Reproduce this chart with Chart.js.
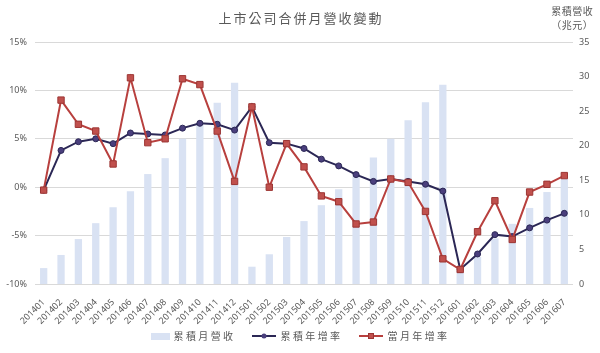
<!DOCTYPE html>
<html>
<head>
<meta charset="utf-8">
<script src="https://cdn.jsdelivr.net/npm/chart.js@4/dist/chart.umd.min.js"></script>
<style>
  html, body { margin: 0; padding: 0; background: #fff; }
  #wrap { position: relative; width: 600px; height: 353px; }
  #legend { position: absolute; left: 0; top: 328px; width: 600px; display: flex; justify-content: center; align-items: center;
    font-family: "Noto Sans CJK TC", "Noto Sans", sans-serif; font-size: 10px; line-height: 16px; color: #595959; letter-spacing: 2.4px; }
  .item { display: flex; align-items: center; margin: 0 8px; }
  .box { width: 19px; height: 7px; background: #d9e2f3; margin-right: 4px; }
  .ln { position: relative; width: 24px; height: 2px; margin-right: 5px; }
  .ln i { position: absolute; left: 50%; top: 50%; transform: translate(-50%, -50%); }
</style>
</head>
<body>
<div id="wrap">
  <canvas id="c" width="600" height="353"></canvas>
  <div id="legend">
    <div class="item"><span class="box"></span><span>累積月營收</span></div>
    <div class="item"><span class="ln" style="background:#2b2755"><i style="width:5px;height:5px;border-radius:50%;background:#4a3f7d;"></i></span><span>累積年增率</span></div>
    <div class="item"><span class="ln" style="background:#b8403e"><i style="width:6px;height:6px;background:#c0504d;border:1px solid #9c3533;box-sizing:border-box;"></i></span><span>當月年增率</span></div>
  </div>
</div>
<script>
const categories = ["201401","201402","201403","201404","201405","201406","201407","201408","201409","201410","201411","201412",
  "201501","201502","201503","201504","201505","201506","201507","201508","201509","201510","201511","201512",
  "201601","201602","201603","201604","201605","201606","201607"];
// 累積月營收 (兆元)
const cumRevenue = [2.3,4.2,6.5,8.8,11.1,13.4,15.9,18.2,21.0,23.3,26.2,29.1,
  2.5,4.3,6.8,9.1,11.4,13.7,16.0,18.3,21.0,23.7,26.3,28.8,
  2.0,3.9,6.6,8.7,11.0,13.3,15.2];
// 累積年增率 (%)
const cumGrowth = [-0.3,3.8,4.7,5.0,4.5,5.6,5.5,5.4,6.1,6.6,6.5,5.9,
  8.3,4.6,4.5,4.0,2.9,2.2,1.3,0.6,0.85,0.6,0.3,-0.4,
  -8.5,-6.9,-4.9,-5.1,-4.2,-3.4,-2.7];
// 當月年增率 (%)
const monthGrowth = [-0.3,9.0,6.5,5.8,2.4,11.3,4.6,5.0,11.2,10.6,5.8,0.6,
  8.3,0.0,4.5,2.1,-0.9,-1.5,-3.8,-3.6,0.85,0.5,-2.5,-7.4,
  -8.5,-4.6,-1.4,-5.4,-0.5,0.3,1.2];
const leftTicks = { min: -10, max: 15, step: 5 };
const rightTicks = { min: 0, max: 35, step: 5 };
const titleText = "上市公司合併月營收變動";
const rightTitle = ["累積營收", "（兆元）"];

const tickFont = { family: "'Noto Sans', 'Liberation Sans', sans-serif", size: 9 };
const cjk = "'Noto Sans CJK TC', 'Noto Sans', sans-serif";

const textPlugin = {
  id: 'texts',
  afterDraw(chart) {
    const ctx = chart.ctx;
    ctx.save();
    ctx.fillStyle = '#595959';
    ctx.textBaseline = 'middle';
    ctx.textAlign = 'center';
    ctx.font = "13px " + cjk;
    const adv = 15;
    const start = 300 - (titleText.length - 1) * adv / 2;
    for (let i = 0; i < titleText.length; i++) ctx.fillText(titleText[i], start + i * adv, 18);
    ctx.font = "10px " + cjk;
    const adv2 = 10.5;
    for (let l = 0; l < 2; l++) {
      const t = rightTitle[l];
      const s = 572 - (t.length - 1) * adv2 / 2;
      for (let i = 0; i < t.length; i++) ctx.fillText(t[i], s + i * adv2, l === 0 ? 11 : 25);
    }
    ctx.restore();
  }
};

new Chart(document.getElementById('c'), {
  data: {
    labels: categories,
    datasets: [
      { type: 'line', label: '當月年增率', data: monthGrowth, yAxisID: 'y', order: 1,
        borderColor: '#b8403e', borderWidth: 2, pointStyle: 'rect', pointRadius: 4.5,
        pointBackgroundColor: '#c0504d', pointBorderColor: '#9c3533', pointBorderWidth: 1, tension: 0 },
      { type: 'line', label: '累積年增率', data: cumGrowth, yAxisID: 'y', order: 2,
        borderColor: '#2b2755', borderWidth: 2, pointStyle: 'circle', pointRadius: 3,
        pointBackgroundColor: '#4a3f7d', pointBorderColor: '#2b2755', pointBorderWidth: 1, tension: 0 },
      { type: 'bar', label: '累積月營收', data: cumRevenue, yAxisID: 'y1', order: 3,
        backgroundColor: '#d9e2f3', barPercentage: 0.42, categoryPercentage: 1.0 }
    ]
  },
  options: {
    responsive: false,
    animation: false,
    layout: { padding: { top: 42, left: 0, right: 0, bottom: 0 } },
    plugins: { legend: { display: false }, title: { display: false }, tooltip: { enabled: false } },
    scales: {
      x: {
        grid: { display: false }, border: { display: false },
        ticks: { font: tickFont, color: '#595959', minRotation: 45, maxRotation: 45, autoSkip: false, padding: 5 },
        afterFit(s) { s.height = 69; }
      },
      y: {
        position: 'left', min: leftTicks.min, max: leftTicks.max,
        grid: { color: '#d9d9d9', lineWidth: 1, drawTicks: false }, border: { display: false },
        ticks: { stepSize: leftTicks.step, font: tickFont, color: '#595959', padding: 8, callback: v => v + '%' },
        afterFit(s) { s.width = 35; }
      },
      y1: {
        position: 'right', min: rightTicks.min, max: rightTicks.max,
        grid: { display: false, drawTicks: false }, border: { display: false },
        ticks: { stepSize: rightTicks.step, font: tickFont, color: '#595959', padding: 6 },
        afterFit(s) { s.width = 27; }
      }
    }
  },
  plugins: [textPlugin]
});
</script>
</body>
</html>
